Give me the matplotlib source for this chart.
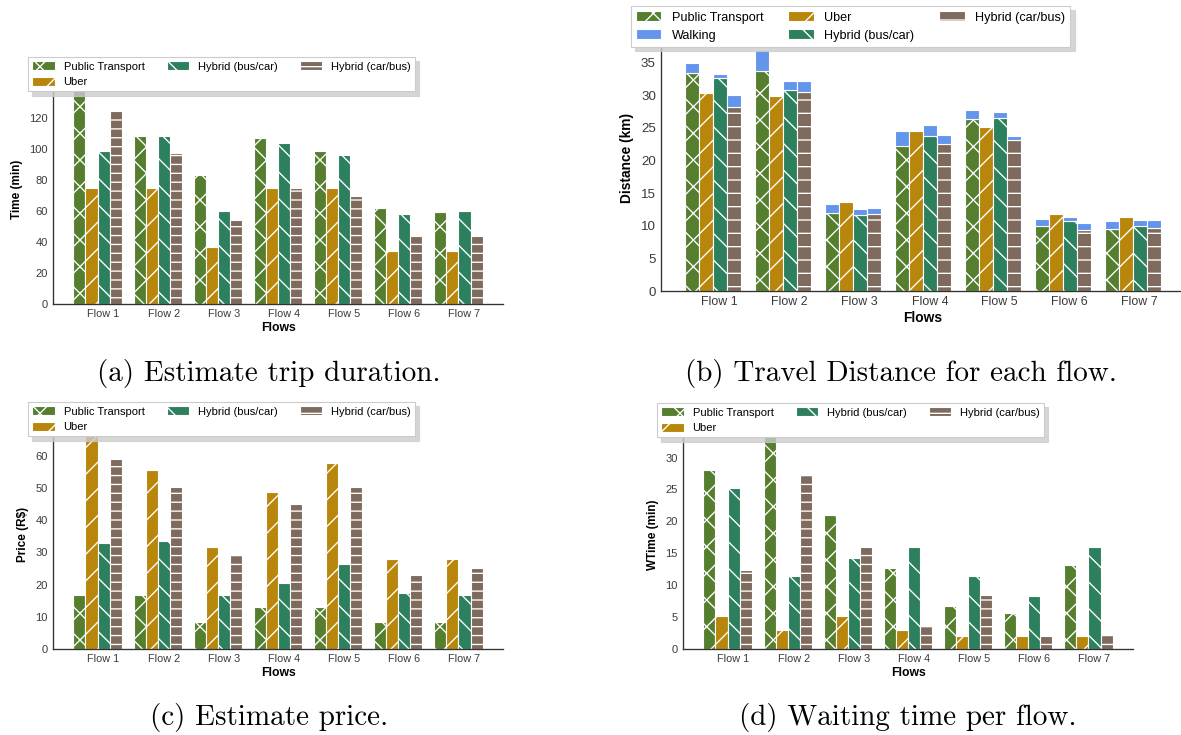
import numpy as np
import matplotlib.pyplot as plt
from matplotlib.ticker import MultipleLocator

# output size in pixels, rendered at a dpi that gives the hatch spacing seen in the picture
W, H, DPI = 1181, 735, 160

flows = ["Flow 1", "Flow 2", "Flow 3", "Flow 4", "Flow 5", "Flow 6", "Flow 7"]
modes = ["Public Transport", "Uber", "Hybrid (bus/car)", "Hybrid (car/bus)"]

# (a) trip duration [min]
time_pt = [140, 108.4, 83.3, 106.9, 98.8, 61.8, 59.3]
time_uber = [75, 75, 36.5, 75, 75, 33.9, 33.9]
time_buscar = [98.8, 108.4, 60.1, 103.9, 95.8, 58.2, 59.7]
time_carbus = [124.5, 97.3, 54.3, 74.5, 69.8, 44.0, 44.0]

# (b) travel distance [km], walking part stacked on top
dist_pt = [33.4, 33.7, 11.9, 22.3, 26.4, 10.0, 9.5]
dist_uber = [30.4, 29.9, 13.7, 24.5, 25.2, 11.8, 11.4]
dist_buscar = [32.6, 30.9, 11.6, 23.8, 26.6, 10.7, 10.0]
dist_carbus = [28.2, 30.5, 11.8, 22.6, 23.1, 9.4, 9.7]
walk_pt = [1.6, 3.3, 1.5, 2.2, 1.3, 1.0, 1.3]
walk_buscar = [0.7, 1.3, 1.0, 1.7, 0.9, 0.7, 0.9]
walk_carbus = [1.9, 1.7, 1.0, 1.4, 0.6, 1.1, 1.2]

# (c) price [R$]
price_pt = [16.8, 16.8, 8.4, 13.0, 13.0, 8.4, 8.4]
price_uber = [67, 55.7, 31.8, 48.8, 57.8, 27.9, 27.9]
price_buscar = [33.1, 33.6, 16.7, 20.6, 26.5, 17.4, 16.7]
price_carbus = [59.2, 50.5, 29.3, 45.1, 50.5, 22.9, 25.3]

# (d) waiting time [min]
wait_pt = [28.0, 34, 21.0, 12.7, 6.8, 5.7, 13.1]
wait_uber = [5.1, 3.0, 5.1, 3.0, 2.0, 2.0, 2.0]
wait_buscar = [25.3, 11.5, 14.3, 16.0, 11.4, 8.25, 16.0]
wait_carbus = [12.4, 27.3, 16.0, 3.7, 8.5, 2.0, 2.4]

captions = ["(a) Estimate trip duration.", "(b) Travel Distance for each flow.",
            "(c) Estimate price.", "(d) Waiting time per flow."]

COLORS = ["#557e2e", "#b8860b", "#2d805d", "#7f6b5d"]
WALK_COLOR = "#6495ed"
BAR_W = 0.2

plt.rcParams['font.family'] = ['Liberation Sans', 'DejaVu Sans']
plt.rcParams['hatch.linewidth'] = 0.6
plt.rcParams['axes.linewidth'] = 0.6


def px_axes(fig, left, top, right, bottom):
    return fig.add_axes([left / W, 1 - bottom / H, (right - left) / W, (bottom - top) / H])


def draw_panel(ax, series, ylabel, ymax, ystep, hatches, fs, legend_xy,
               walking=None):
    x = np.arange(len(flows))
    handles = {}
    for i, vals in enumerate(series):
        pos = x + (i - 1.5) * BAR_W
        h = ax.bar(pos, vals, BAR_W, color=COLORS[i], hatch=hatches[i],
                   edgecolor="white", linewidth=0.5, zorder=2)
        handles[modes[i]] = h
        if walking is not None and walking[i] is not None:
            hw = ax.bar(pos, walking[i], BAR_W, bottom=vals, color=WALK_COLOR,
                        edgecolor="white", linewidth=0.5, zorder=2)
            handles["Walking"] = hw

    ax.set_xlim(-0.74, 6.74)
    ax.set_ylim(0, ymax)
    ax.yaxis.set_major_locator(MultipleLocator(ystep))
    ax.set_xticks(x + BAR_W / 2)
    ax.set_xticklabels(flows)
    ax.tick_params(length=0, labelsize=fs["tick"], colors="#3a3a3a", pad=fs["pad"])
    ax.tick_params(axis="x", labelsize=fs["xtick"])
    for side in ["top", "right"]:
        ax.spines[side].set_visible(False)
    for side in ["left", "bottom"]:
        ax.spines[side].set_color("#333333")
    ax.set_ylabel(ylabel, fontsize=fs["label"], fontweight="bold", labelpad=fs["ylp"])
    ax.set_xlabel("Flows", fontsize=fs["xlabel"], fontweight="bold", labelpad=fs["xlp"])

    if walking is None:
        order = modes
    else:
        order = ["Public Transport", "Walking", "Uber", "Hybrid (bus/car)", "Hybrid (car/bus)"]
    leg = ax.legend([handles[k] for k in order], order, ncol=3, loc="upper left",
                    bbox_to_anchor=(legend_xy[0] / W, 1 - legend_xy[1] / H),
                    bbox_transform=ax.figure.transFigure, borderaxespad=0,
                    fontsize=fs["legend"], frameon=True, fancybox=False,
                    shadow={"color": "0.8", "alpha": 0.8}, framealpha=1,
                    edgecolor="#cccccc", labelspacing=0.45, handleheight=0.85)
    leg.get_frame().set_linewidth(0.5)
    leg.set_zorder(10)


small = dict(tick=5.0, xtick=4.9, label=5.3, xlabel=5.5, legend=5.0, pad=2.3, ylp=3, xlp=1.5)
big = dict(tick=6.0, xtick=5.6, label=6.2, xlabel=6.2, legend=5.7, pad=2.3, ylp=3, xlp=1.5)

fig = plt.figure(figsize=(W / DPI, H / DPI), dpi=DPI)
fig.patch.set_facecolor("white")

ax_a = px_axes(fig, 53, 75, 503, 304)
draw_panel(ax_a, [time_pt, time_uber, time_buscar, time_carbus], "Time (min)",
           (304 - 75) / 1.5525, 20, ["xx", "//", "\\\\", "---"], small, (28, 57))

ax_b = px_axes(fig, 661, 25, 661 + 523.6, 291)
draw_panel(ax_b, [dist_pt, dist_uber, dist_buscar, dist_carbus], "Distance (km)",
           (291 - 25) / 6.52, 5, ["xx", "//", "\\\\", "--"], big, (631, 6),
           walking=[walk_pt, None, walk_buscar, walk_carbus])

ax_c = px_axes(fig, 53, 420, 503, 649)
draw_panel(ax_c, [price_pt, price_uber, price_buscar, price_carbus], "Price (R$)",
           (649 - 420) / 3.217, 10, ["xx", "//", "\\\\", "---"], small, (28, 402))

ax_d = px_axes(fig, 683, 420, 1133, 649)
draw_panel(ax_d, [wait_pt, wait_uber, wait_buscar, wait_carbus], "WTime (min)",
           (649 - 420) / 6.383, 5, ["xx", "//", "\\\\", "---"], small, (657, 403))

cap_pos = [(269, 374), (901, 374), (269, 718), (908, 718)]
for text, (cx, cy) in zip(captions, cap_pos):
    fig.text(cx / W, 1 - cy / H, text, ha="center", va="center",
             fontsize=13.1, family="cmr10")

fig.savefig("out.png", dpi=DPI)
